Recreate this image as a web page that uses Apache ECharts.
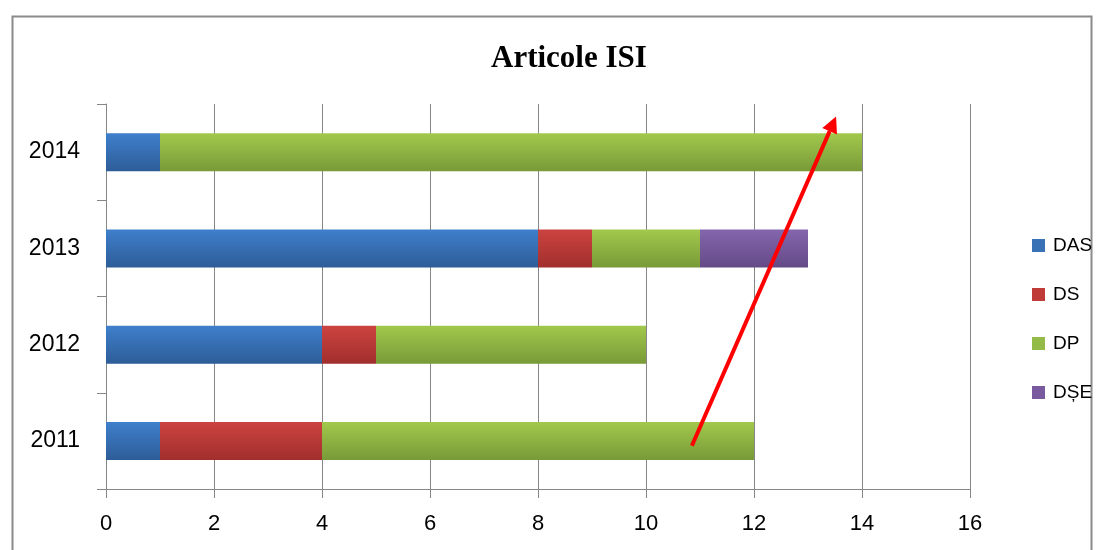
<!DOCTYPE html>
<html>
<head>
<meta charset="utf-8">
<script src="https://cdn.jsdelivr.net/npm/echarts@6/dist/echarts.min.js"></script>
<style>
html,body{margin:0;padding:0;background:#fff;}
#c{width:1104px;height:550px;}
</style>
</head>
<body>
<div id="c"></div>
<script>
const categories = ['2011', '2012', '2013', '2014'];
const seriesNames = ['DAS', 'DS', 'DP', 'DȘE'];
const dasValues = [1, 4, 8, 1];
const dsValues = [3, 1, 1, 0];
const dpValues = [8, 5, 2, 13];
const dseValues = [0, 0, 2, 0];
const xTicks = [0, 2, 4, 6, 8, 10, 12, 14, 16];
// arrow annotation: [xValue, categoryPosition]
const arrowStart = [10.85, -0.05];
const arrowEnd = [13.52, 3.37];

function grad(top, bottom) {
  return new echarts.graphic.LinearGradient(0, 0, 0, 1, [
    {offset: 0, color: top}, {offset: 1, color: bottom}
  ]);
}
const fills = [
  grad('#3f7fcc', '#2d5d98'),
  grad('#cc4340', '#a12f2d'),
  grad('#a2c94c', '#789a38'),
  grad('#8466ad', '#654a87')
];
const legendColors = ['#3a72b6', '#bf3b38', '#94bb48', '#7a5a9e'];
const dataSets = [dasValues, dsValues, dpValues, dseValues];

const chart = echarts.init(document.getElementById('c'));
const labelFont = 'Liberation Sans, Arial, sans-serif';
const option = {
  animation: false,
  title: {
    text: 'Articole ISI',
    left: 486,
    top: 38,
    textStyle: {fontFamily: 'Liberation Serif, DejaVu Serif, serif', fontWeight: 'bold', fontSize: 31, color: '#000'}
  },
  legend: {
    orient: 'vertical',
    left: 1027,
    top: 231,
    itemWidth: 13,
    itemHeight: 13,
    itemGap: 30,
    icon: 'rect',
    textStyle: {fontFamily: labelFont, fontSize: 19, color: '#000', padding: [0, 0, 0, 3]},
    data: seriesNames.map((n, i) => ({name: n, itemStyle: {color: legendColors[i]}}))
  },
  grid: {left: 106, right: 134, top: 104, bottom: 61, containLabel: false},
  xAxis: {
    type: 'value',
    min: 0, max: 16, interval: 2,
    axisLine: {show: true, lineStyle: {color: '#868686', width: 1}},
    axisTick: {show: true, length: 9, lineStyle: {color: '#868686'}},
    splitLine: {show: true, lineStyle: {color: '#868686', width: 1}},
    axisLabel: {fontFamily: labelFont, fontSize: 22, color: '#000', margin: 24,
      formatter: v => xTicks.includes(v) ? String(v) : ''}
  },
  yAxis: {
    type: 'category',
    data: categories,
    axisLine: {show: true, lineStyle: {color: '#868686', width: 1}},
    axisTick: {show: true, length: 9, alignWithLabel: false, lineStyle: {color: '#868686'}},
    splitLine: {show: false},
    axisLabel: {fontFamily: labelFont, fontSize: 23, color: '#000', margin: 26}
  },
  series: seriesNames.map((n, i) => ({
    name: n,
    type: 'bar',
    stack: 'total',
    barWidth: 38,
    data: dataSets[i],
    itemStyle: {color: fills[i], shadowColor: 'rgba(0,0,0,0.3)', shadowBlur: 8, shadowOffsetX: 2, shadowOffsetY: 4}
  })),
  graphic: [{
    type: 'rect', left: 10, top: 14, z: -10,
    shape: {x: 0, y: 0, width: 1079, height: 560},
    style: {fill: 'none', stroke: '#8a8a8a', lineWidth: 2}
  }]
};
chart.setOption(option);

function catPixel(xv, cpos) {
  const c0 = chart.convertToPixel({gridIndex: 0}, [xv, 0]);
  const c1 = chart.convertToPixel({gridIndex: 0}, [xv, 1]);
  const step = c1[1] - c0[1];
  return [c0[0], c0[1] + cpos * step];
}
const p0 = catPixel(arrowStart[0], arrowStart[1]);
const p1 = catPixel(arrowEnd[0], arrowEnd[1]);
const ang = Math.atan2(p1[1] - p0[1], p1[0] - p0[0]);
const headLen = 16, headW = 8;
const bx = p1[0] - headLen * Math.cos(ang), by = p1[1] - headLen * Math.sin(ang);
const px = -Math.sin(ang), py = Math.cos(ang);
chart.setOption({
  graphic: [
    option.graphic[0],
    {type: 'line', z: 100, shape: {x1: p0[0], y1: p0[1], x2: bx, y2: by}, style: {stroke: '#ff0000', lineWidth: 4}},
    {type: 'polygon', z: 100, shape: {points: [[p1[0], p1[1]], [bx + px * headW, by + py * headW], [bx - px * headW, by - py * headW]]}, style: {fill: '#ff0000'}}
  ]
});
</script>
</body>
</html>
